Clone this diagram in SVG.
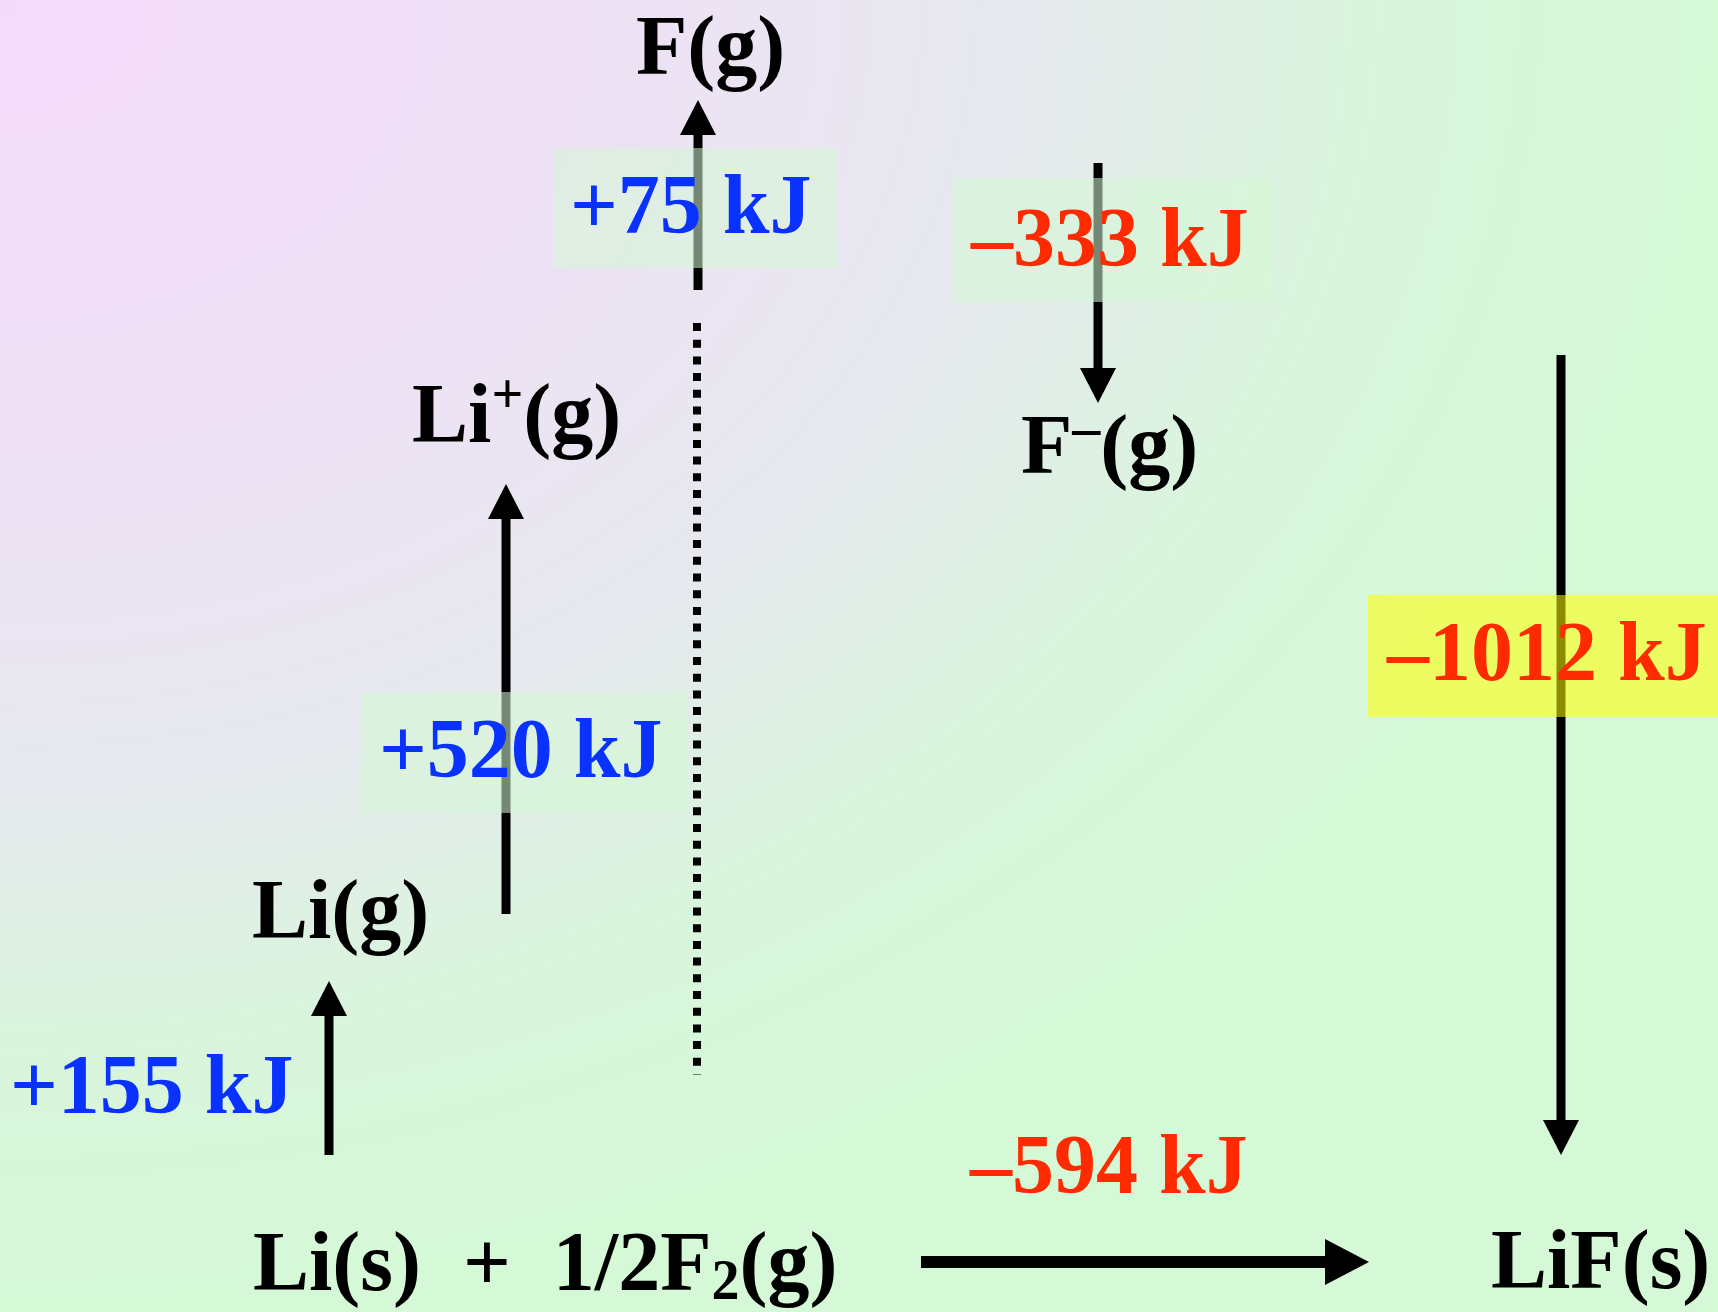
<svg xmlns="http://www.w3.org/2000/svg" width="1718" height="1312" viewBox="0 0 1718 1312">
  <defs>
    <radialGradient id="bg" cx="0" cy="0" r="1" fx="0" fy="0" gradientUnits="objectBoundingBox">
      <stop offset="0" stop-color="#f5dbfb"/>
      <stop offset="0.35" stop-color="#eee1f5"/>
      <stop offset="0.6" stop-color="#e6e9ee"/>
      <stop offset="0.8" stop-color="#d9f5dc"/>
      <stop offset="1" stop-color="#d5f9d7"/>
    </radialGradient>
    <marker id="head" markerUnits="userSpaceOnUse" markerWidth="36" markerHeight="36" refX="0" refY="18" orient="auto" viewBox="0 0 36 36">
      <path d="M0,0 L35,18 L0,36 z" fill="#000"/>
    </marker>
    <marker id="headBig" markerUnits="userSpaceOnUse" markerWidth="45" markerHeight="46" refX="0" refY="23" orient="auto" viewBox="0 0 45 46">
      <path d="M0,0 L44,23 L0,46 z" fill="#000"/>
    </marker>
  </defs>
  <style>
    text { font-family: "Liberation Serif", "Times New Roman", serif; font-weight: bold; font-size: 84px; }
    .species { fill: #000; }
    .endo { fill: #0a32ff; }
    .exo { fill: #ff2a00; }
    .sup { font-size: 56px; }
    .box { fill: #d6f8d6; fill-opacity: 0.55; }
    .ybox { fill: #ffff00; fill-opacity: 0.55; }
    .arrow { stroke: #000; stroke-width: 9; fill: none; marker-end: url(#head); }
    .arrowBig { stroke: #000; stroke-width: 12; fill: none; marker-end: url(#headBig); }
    .dotted { stroke: #000; stroke-width: 8; stroke-dasharray: 8 8.7; fill: none; }
  </style>

  <rect x="0" y="0" width="1718" height="1312" fill="url(#bg)"/>

  <g id="connectors">
    <line class="arrow" x1="329" y1="1155" x2="329" y2="1016"/>
    <line class="arrow" x1="506" y1="914" x2="506" y2="519"/>
    <line class="arrow" x1="698" y1="290" x2="698" y2="135"/>
    <line class="arrow" x1="1098" y1="163" x2="1098" y2="368"/>
    <line class="arrow" x1="1561" y1="355" x2="1561" y2="1120"/>
    <line class="arrowBig" x1="921" y1="1262" x2="1325" y2="1262"/>
    <line class="dotted" x1="697" y1="323" x2="697" y2="1075"/>
  </g>

  <g id="node-Fg">
    <text class="species" x="636" y="74">F(g)</text>
  </g>
  <g id="node-Fminus">
    <text class="species" x="1021" y="473">F<tspan class="sup" dy="-27">–</tspan><tspan dy="27">(g)</tspan></text>
  </g>
  <g id="node-Liplus">
    <text class="species" x="412" y="442">Li<tspan class="sup" dy="-29">+</tspan><tspan dy="29">(g)</tspan></text>
  </g>
  <g id="node-Lig">
    <text class="species" x="252" y="938">Li(g)</text>
  </g>
  <g id="node-reactants">
    <text class="species" x="253" y="1290" xml:space="preserve">Li(s)  +  1/2F<tspan class="sup" dy="9">2</tspan><tspan dy="-9">(g)</tspan></text>
  </g>
  <g id="node-LiF">
    <text class="species" x="1491" y="1288">LiF(s)</text>
  </g>

  <g id="label-155">
    <text class="endo" x="10" y="1113">+155 kJ</text>
  </g>
  <g id="label-520">
    <rect class="box" x="362" y="692" width="326" height="121"/>
    <text class="endo" x="379" y="777">+520 kJ</text>
  </g>
  <g id="label-75">
    <rect class="box" x="553" y="148" width="284" height="120"/>
    <text class="endo" x="570" y="233">+75 kJ</text>
  </g>
  <g id="label-333">
    <rect class="box" x="953" y="178" width="320" height="124"/>
    <text class="exo" x="971" y="266">–333 kJ</text>
  </g>
  <g id="label-1012">
    <rect class="ybox" x="1368" y="595" width="350" height="122"/>
    <text class="exo" x="1387" y="680">–1012 kJ</text>
  </g>
  <g id="label-594">
    <text class="exo" x="970" y="1193">–594 kJ</text>
  </g>
</svg>
